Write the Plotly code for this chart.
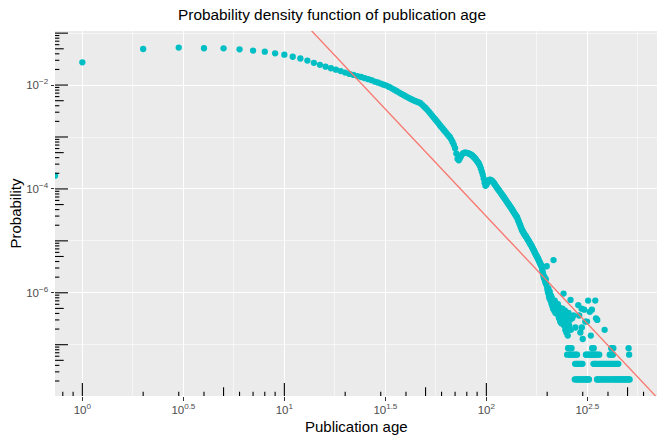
import math
import plotly.graph_objects as go

# ---------------- data ----------------
total_publications = 4.66e7          # one publication -> lowest row of points
age_zero_probability = 1.80e-4       # age 0: log10(0) = -Inf, drawn on the left edge

main_ages = list(range(1, 201))
main_probability = [
    2.74e-2, 4.95e-2, 5.27e-2, 5.12e-2, 5.09e-2, 4.89e-2, 4.61e-2, 4.40e-2, 4.09e-2, 3.85e-2,
    3.51e-2, 3.25e-2, 2.96e-2, 2.68e-2, 2.45e-2, 2.26e-2, 2.11e-2, 1.98e-2, 1.86e-2, 1.74e-2,
    1.64e-2, 1.57e-2, 1.49e-2, 1.43e-2, 1.36e-2, 1.30e-2, 1.24e-2, 1.17e-2, 1.12e-2, 1.07e-2,
    1.02e-2, 9.77e-3, 9.23e-3, 8.67e-3, 8.13e-3, 7.64e-3, 7.16e-3, 6.76e-3, 6.38e-3, 6.05e-3,
    5.75e-3, 5.47e-3, 5.22e-3, 5.01e-3, 4.84e-3, 4.68e-3, 4.52e-3, 4.22e-3, 3.89e-3, 3.63e-3,
    3.33e-3, 3.05e-3, 2.79e-3, 2.56e-3, 2.34e-3, 2.15e-3, 1.98e-3, 1.82e-3, 1.67e-3, 1.54e-3,
    1.43e-3, 1.32e-3, 1.23e-3, 1.14e-3, 1.06e-3, 9.89e-4, 9.02e-4, 8.04e-4, 7.08e-4, 6.10e-4,
    4.79e-4, 3.80e-4, 3.55e-4, 3.89e-4, 4.32e-4, 4.68e-4, 4.90e-4, 5.01e-4, 5.01e-4, 4.95e-4,
    4.88e-4, 4.79e-4, 4.68e-4, 4.55e-4, 4.40e-4, 4.22e-4, 4.03e-4, 3.85e-4, 3.63e-4, 3.43e-4,
    3.24e-4, 3.02e-4, 2.75e-4, 2.45e-4, 2.16e-4, 1.88e-4, 1.58e-4, 1.32e-4, 1.15e-4, 1.20e-4,
    1.32e-4, 1.41e-4, 1.48e-4, 1.51e-4, 1.50e-4, 1.46e-4, 1.41e-4, 1.35e-4, 1.29e-4, 1.23e-4,
    1.16e-4, 1.10e-4, 1.05e-4, 1.00e-4, 9.55e-5, 9.12e-5, 8.71e-5, 8.32e-5, 7.94e-5, 7.59e-5,
    7.24e-5, 6.92e-5, 6.61e-5, 6.31e-5, 6.03e-5, 5.75e-5, 5.50e-5, 5.25e-5, 5.01e-5, 4.79e-5,
    4.57e-5, 4.42e-5, 4.22e-5, 4.03e-5, 3.85e-5, 3.67e-5, 3.51e-5, 3.35e-5, 3.20e-5, 3.05e-5,
    2.95e-5, 2.82e-5, 2.63e-5, 2.45e-5, 2.29e-5, 2.14e-5, 2.00e-5, 1.86e-5, 1.74e-5, 1.62e-5,
    1.55e-5, 1.48e-5, 1.41e-5, 1.35e-5, 1.30e-5, 1.26e-5, 1.22e-5, 1.17e-5, 1.12e-5, 1.07e-5,
    1.03e-5, 1.00e-5, 9.55e-6, 9.12e-6, 8.71e-6, 8.41e-6, 8.13e-6, 7.76e-6, 7.41e-6, 7.08e-6,
    6.76e-6, 6.46e-6, 6.17e-6, 5.89e-6, 5.62e-6, 5.37e-6, 5.19e-6, 5.01e-6, 4.79e-6, 4.57e-6,
    4.37e-6, 4.17e-6, 3.98e-6, 3.80e-6, 3.63e-6, 3.47e-6, 3.31e-6, 3.16e-6, 2.82e-6, 2.51e-6,
    2.29e-6, 2.09e-6, 1.91e-6, 2.00e-6, 1.74e-6, 1.58e-6, 1.82e-6, 1.45e-6, 3.24e-6, 1.26e-6,
]

# noisy tail, given as publication counts per age
cloud_ages = list(range(201, 265))
cloud_counts = [
    52, 47, 56, 41, 37, 49, 35, 33, 41, 29,
    37, 26, 31, 23, 199, 28, 21, 33, 24, 19,
    29, 22, 25, 19, 23, 28, 17, 21, 15, 24,
    19, 13, 22, 17, 12, 19, 15, 23, 14, 18,
    45, 11, 17, 13, 21, 9, 10, 15, 8, 17,
    3, 12, 7, 4, 19, 4, 11, 3, 14, 3,
    34, 9, 3, 4,
]
upper_tail_ages = [266, 270, 276, 285, 288, 292, 296, 297, 300, 305,
                   309, 315, 319, 325, 329, 333, 346, 349, 354, 385]
upper_tail_counts = [15, 17, 10, 27, 17, 8, 23, 10, 6, 22,
                     13, 13, 33, 20, 7, 22, 33, 15, 14, 9]
ages_with_4 = [334, 337, 340, 415, 420, 425, 506]
ages_with_3 = [268, 272, 277, 281, 311, 314, 318, 323, 327, 331, 336, 341, 345, 350,
               356, 362, 408, 412, 418, 423, 509]
ages_with_2 = [275, 279, 283, 287, 291, 295, 299, 339, 343, 347, 351, 357, 363, 368,
               374, 380, 386, 392, 398, 404, 410, 416, 422, 428, 434, 440, 446, 450]
ages_with_1 = [274, 278, 282, 286, 290, 294, 298, 302, 306, 310, 313, 317, 320, 322,
               353, 355, 359, 365, 370, 376, 382, 388, 394, 400, 406, 413, 419, 427,
               431, 437, 443, 449, 455, 461, 467, 473, 479, 485, 491, 497, 503, 508, 512]

# fitted power law  p = 10**fit_log10_coefficient * age**fit_exponent
fit_log10_coefficient = 3.732
fit_exponent = -4.13

x_tick_exponents = [0, 0.5, 1, 1.5, 2, 2.5]
x_tick_labels = ["10<sup>0</sup>", "10<sup>0.5</sup>", "10<sup>1</sup>",
                 "10<sup>1.5</sup>", "10<sup>2</sup>", "10<sup>2.5</sup>"]
x_minor_exponents = [0.25, 0.75, 1.25, 1.75, 2.25, 2.75]
y_tick_exponents = [-2, -4, -6]
y_tick_labels = ["10<sup>\u22122</sup>", "10<sup>\u22124</sup>", "10<sup>\u22126</sup>"]
y_minor_exponents = [-1, -3, -5, -7]

# ---------------- assemble points ----------------
ages = list(main_ages)
probs = list(main_probability)
tail_pairs = list(zip(cloud_ages, cloud_counts)) + list(zip(upper_tail_ages, upper_tail_counts))
for c, lst in ((4, ages_with_4), (3, ages_with_3), (2, ages_with_2), (1, ages_with_1)):
    tail_pairs += [(a, c) for a in lst]
for a, c in tail_pairs:
    ages.append(a)
    probs.append(c / total_publications)

# ggplot-like 5% expansion in log space
lx = [math.log10(a) for a in ages]
ly = [math.log10(p) for p in probs]
def expand(lo, hi, m=0.05):
    d = hi - lo
    return [lo - m * d, hi + m * d]
xr = expand(min(lx), max(lx))
yr = expand(min(ly), max(ly))

teal = "#00BFC4"
red = "#F8766D"

fig = go.Figure()
fig.add_trace(go.Scatter(x=ages, y=probs, mode="markers",
                         marker=dict(color=teal, size=6.3, line=dict(width=0)),
                         showlegend=False, hoverinfo="skip"))
# age 0 -> -Inf -> drawn at the left panel edge
fig.add_trace(go.Scatter(x=[10 ** xr[0]], y=[age_zero_probability], mode="markers",
                         marker=dict(color=teal, size=6.3, line=dict(width=0)),
                         showlegend=False, hoverinfo="skip", cliponaxis=True))
line_x = [10 ** xr[0], 10 ** xr[1]]
line_y = [10 ** fit_log10_coefficient * x ** fit_exponent for x in line_x]
fig.add_trace(go.Scatter(x=line_x, y=line_y, mode="lines",
                         line=dict(color=red, width=1.3),
                         showlegend=False, hoverinfo="skip"))

# annotation_logticks (bottom and left)
LONG, MID, SHORT = 13, 8.7, 4.35
shapes = []
for d in range(-1, 4):
    for m in range(1, 10):
        v = m * 10 ** d
        if xr[0] <= math.log10(v) <= xr[1]:
            L = LONG if m == 1 else (MID if m == 5 else SHORT)
            shapes.append(dict(type="line", xref="x", yref="paper", ysizemode="pixel",
                               yanchor=0, x0=v, x1=v, y0=0, y1=L,
                               line=dict(color="black", width=1.1), layer="above"))
for d in range(-9, 1):
    for m in range(1, 10):
        v = m * 10 ** d
        if yr[0] <= math.log10(v) <= yr[1]:
            L = LONG if m == 1 else (MID if m == 5 else SHORT)
            shapes.append(dict(type="line", yref="y", xref="paper", xsizemode="pixel",
                               xanchor=0, y0=v, y1=v, x0=0, x1=L,
                               line=dict(color="black", width=1.1), layer="above"))

font = "Liberation Sans, Arial, sans-serif"
axis_common = dict(type="log", showline=False, zeroline=False, automargin=False,
                   gridcolor="white", gridwidth=1.1,
                   ticks="outside", ticklen=3.5, tickwidth=1, tickcolor="#333333",
                   tickfont=dict(family=font, size=11.5, color="#4D4D4D"),
                   tickmode="array")
fig.update_layout(
    width=664, height=443,
    margin=dict(l=55, r=7, t=31, b=47, autoexpand=False),
    paper_bgcolor="white", plot_bgcolor="#EBEBEB",
    font=dict(family=font, color="black"),
    title=dict(text="Probability density function of publication age",
               x=0.5, xref="container", xanchor="center",
               y=1 - 14.5 / 443, yref="container", yanchor="middle",
               font=dict(size=15.4, color="black", family=font)),
    xaxis=dict(axis_common, range=xr,
               tickvals=[10 ** e for e in x_tick_exponents], ticktext=x_tick_labels,
               minor=dict(tickmode="array", tickvals=[10 ** e for e in x_minor_exponents],
                          showgrid=True, gridcolor="white", gridwidth=0.55, ticks="")),
    yaxis=dict(axis_common, range=yr,
               tickvals=[10 ** e for e in y_tick_exponents], ticktext=y_tick_labels,
               minor=dict(tickmode="array", tickvals=[10 ** e for e in y_minor_exponents],
                          showgrid=True, gridcolor="white", gridwidth=0.55, ticks="")),
    shapes=shapes,
    annotations=[
        dict(text="Publication age", xref="paper", yref="paper", x=0.5, y=0,
             yshift=-30, xanchor="center", yanchor="middle", showarrow=False,
             font=dict(size=15, color="black", family=font)),
        dict(text="Probability", xref="paper", yref="paper", x=0, y=0.5,
             xshift=-40, xanchor="center", yanchor="middle", textangle=-90,
             showarrow=False, font=dict(size=15, color="black", family=font)),
    ],
)

fig.write_html("out.html", config={"displayModeBar": False, "staticPlot": True},
               post_script="document.body.style.margin='0';document.body.style.padding='0';")
